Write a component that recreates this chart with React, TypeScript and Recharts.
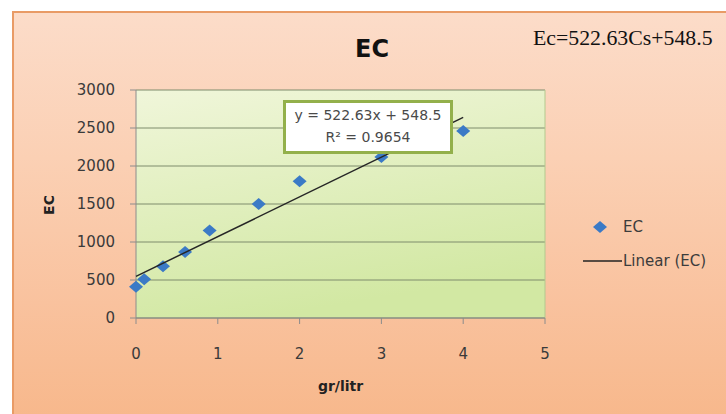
import React from "react";
import {
  ScatterChart,
  Scatter,
  XAxis,
  YAxis,
  CartesianGrid,
  Legend,
  Label,
  ReferenceLine,
} from "recharts";

// measured points (gr/litr vs EC)
const concentration = [0, 0.1, 0.33, 0.6, 0.9, 1.5, 2, 3, 4];
const ecValues = [410, 510, 680, 870, 1150, 1500, 1800, 2120, 2460];

// linear trend y = 522.63x + 548.5, drawn between its two ends
const trendX = [0, 4];
const trendY = [548.5, 2639];

const xTicks = [0, 1, 2, 3, 4, 5];
const yTicks = [0, 500, 1000, 1500, 2000, 2500, 3000];

const points = concentration.map((x, i) => ({ x, y: ecValues[i] }));
const trend = trendX.map((x, i) => ({ x, y: trendY[i] }));

const FONT = "DejaVu Sans";
const BLUE = "#3b7ac6";

const Diamond = (props: any) => {
  const { cx, cy } = props;
  if (cx == null || cy == null) return <g />;
  return (
    <polygon
      points={`${cx - 7},${cy} ${cx},${cy - 6} ${cx + 7},${cy} ${cx},${cy + 6}`}
      fill={BLUE}
    />
  );
};

const renderLegend = (props: any) => {
  const items = props.payload || [];
  return (
    <div style={{ position: "relative", width: 140, height: 60, fontFamily: FONT, fontSize: 15, color: "#3c3c3c" }}>
      {items.map((entry: any, i: number) => (
        <div key={i} style={{ position: "absolute", left: 0, top: i * 34, height: 20, width: 140 }}>
          <svg width={42} height={20} style={{ position: "absolute", left: 0, top: 0 }}>
            {i === 0 ? (
              <polygon points="13,10 20,4 27,10 20,16" fill={BLUE} />
            ) : (
              <line x1={3} y1={10} x2={42} y2={10} stroke="#222" strokeWidth={1.5} />
            )}
          </svg>
          <span style={{ position: "absolute", left: 43, top: 0, lineHeight: "20px", whiteSpace: "nowrap" }}>
            {entry.value}
          </span>
        </div>
      ))}
    </div>
  );
};

export default function App() {
  return (
    <div style={{ position: "absolute", left: 0, top: 0, width: 726, height: 414, background: "#fff", overflow: "hidden" }}>
      <div
        style={{
          position: "absolute",
          left: 12,
          top: 11,
          width: 726,
          height: 414,
          borderTop: "2px solid #e99b66",
          borderLeft: "2px solid #e99b66",
          background: "linear-gradient(180deg, #fcdcc9 0%, #fbd0b4 35%, #f9c29e 70%, #f7b78a 100%)",
        }}
      />
      <div
        style={{
          position: "absolute",
          left: 322,
          top: 35,
          width: 100,
          textAlign: "center",
          fontFamily: FONT,
          fontWeight: "bold",
          fontSize: 24,
          color: "#111",
        }}
      >
        EC
      </div>
      <div
        style={{
          position: "absolute",
          left: 533,
          top: 26,
          fontFamily: "Liberation Serif",
          fontSize: 21.8,
          color: "#111",
          whiteSpace: "nowrap",
        }}
      >
        Ec=522.63Cs+548.5
      </div>
      <ScatterChart
        width={726}
        height={414}
        margin={{ top: 90, right: 181, bottom: 36, left: 20 }}
        style={{ position: "absolute", left: 0, top: 0 }}
      >
        <defs>
          <linearGradient id="plotFill" x1="0" y1="0" x2="0.3" y2="1">
            <stop offset="0%" stopColor="#f0f6da" />
            <stop offset="100%" stopColor="#d2e8a3" />
          </linearGradient>
        </defs>
        <CartesianGrid
          vertical={false}
          fill="url(#plotFill)"
          stroke="#7e8c6c"
          strokeWidth={1}
        />
        <ReferenceLine x={5} stroke="#b3c98e" strokeWidth={1} />
        <XAxis
          type="number"
          dataKey="x"
          domain={[0, 5]}
          ticks={xTicks}
          height={60}
          tickSize={6}
          tickMargin={24}
          axisLine={{ stroke: "#8c8c8c" }}
          tickLine={{ stroke: "#8c8c8c" }}
          tick={{ fill: "#3a3a3a", fontSize: 15, fontFamily: FONT }}
        >
          <Label
            content={({ viewBox }: any) => (
              <text
                x={viewBox.x + viewBox.width / 2}
                y={viewBox.y + 73}
                textAnchor="middle"
                fontFamily={FONT}
                fontWeight="bold"
                fontSize={14}
                fill="#222"
              >
                gr/litr
              </text>
            )}
          />
        </XAxis>
        <YAxis
          type="number"
          dataKey="y"
          domain={[0, 3000]}
          ticks={yTicks}
          width={116}
          tickSize={6}
          tickMargin={15}
          axisLine={{ stroke: "#8c8c8c" }}
          tickLine={{ stroke: "#8c8c8c" }}
          tick={{ fill: "#3a3a3a", fontSize: 15, fontFamily: FONT }}
        >
          <Label
            content={({ viewBox }: any) => {
              const cx = 54;
              const cy = viewBox.y + viewBox.height / 2 + 1;
              return (
                <text
                  x={cx}
                  y={cy}
                  transform={`rotate(-90, ${cx}, ${cy})`}
                  textAnchor="middle"
                  fontFamily={FONT}
                  fontWeight="bold"
                  fontSize={14}
                  fill="#222"
                >
                  EC
                </text>
              );
            }}
          />
        </YAxis>
        <Scatter
          name="EC"
          data={points}
          shape={Diamond}
          fill={BLUE}
          isAnimationActive={false}
        />
        <Scatter
          name="Linear (EC)"
          data={trend}
          line={{ stroke: "#262626", strokeWidth: 1.5 }}
          shape={() => <g />}
          fill="#262626"
          isAnimationActive={false}
        />
        <Legend
          layout="horizontal"
          align="center"
          verticalAlign="middle"
          wrapperStyle={{ left: 580, top: 217, width: 140 }}
          content={renderLegend}
        />
      </ScatterChart>
      <div
        style={{
          position: "absolute",
          left: 283,
          top: 100,
          width: 164,
          height: 47,
          border: "3px solid #93b04b",
          background: "#fff",
          fontFamily: FONT,
          fontSize: 14,
          color: "#4a4a4a",
          textAlign: "center",
          lineHeight: "22px",
          paddingTop: 1,
          boxSizing: "content-box",
        }}
      >
        <div>y = 522.63x + 548.5</div>
        <div>R² = 0.9654</div>
      </div>
    </div>
  );
}
